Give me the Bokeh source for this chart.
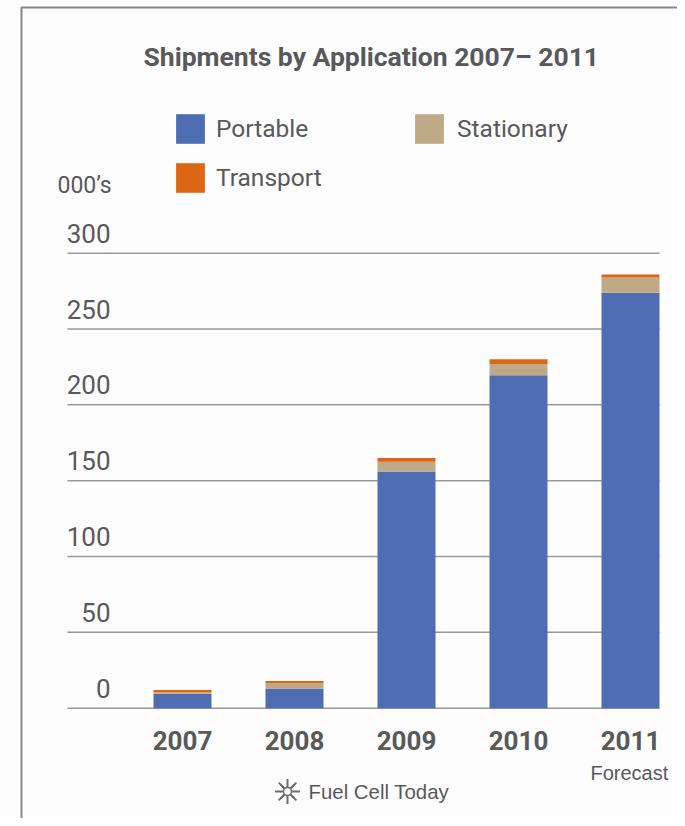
from bokeh.plotting import figure
from bokeh.embed import file_html
from bokeh.resources import INLINE
from bokeh.core.properties import value
from bokeh.models import (Range1d, LinearAxis, FixedTicker, Legend, LegendItem, Label,
                          BoxAnnotation, ColumnDataSource)

# ---- data ----
years = [2007, 2008, 2009, 2010, 2011]
portable = [9.5, 13, 156, 219.5, 274]
stationary = [1, 3.5, 6.5, 7.5, 10]
transport = [1.5, 1.5, 2.5, 3, 2]
y_ticks = [0, 50, 100, 150, 200, 250, 300]
series = ["Portable", "Stationary", "Transport"]
colors = ["#4F6DB3", "#BFA986", "#DD6614"]
title_text = "Shipments by Application 2007\u2013 2011"

# ---- layout (picture pixels) ----
W, H = 677, 818
BASE = 707.7
S = (707.7 - 252.7) / 300
YEAR_PX = 112
X0 = 2007 - 182 / YEAR_PX
X1 = X0 + W / YEAR_PX
FONT = "Roboto"
SANS = "Liberation Sans"
TXT = "#58595B"

def px(page_x):
    return X0 + page_x / YEAR_PX

def py(page_y):
    return (BASE - page_y) / S

p = figure(width=W, height=H, output_backend="svg", toolbar_location=None,
           x_range=Range1d(X0, X1),
           y_range=Range1d((BASE - H) / S, BASE / S),
           x_axis_type=None, y_axis_type=None,
           min_border=0,
           background_fill_color="#FDFDFD", border_fill_color="#FDFDFD",
           outline_line_color=None)

# x axis
xax = LinearAxis(ticker=FixedTicker(ticks=years), fixed_location=0)
xax.axis_line_color = None
xax.major_tick_line_color = None
xax.minor_tick_line_color = None
xax.major_label_standoff = 17
xax.major_label_text_font = FONT
xax.major_label_text_font_style = "bold"
xax.major_label_text_font_size = "26px"
xax.major_label_text_color = TXT
xax.major_label_overrides = {y: str(y) for y in years}
p.add_layout(xax, "below")

# grid lines and their labels, from the y ticks (labels sit above the lines)
n = len(y_ticks)
p.segment(x0=[px(67)] * n, x1=[px(659)] * n, y0=y_ticks, y1=y_ticks,
          line_color="#999999", line_width=1.5)
p.text(x=[px(110)] * n, y=y_ticks, text=[str(t) for t in y_ticks], y_offset=-20,
       text_font=value(FONT), text_font_size="26px", text_color=TXT,
       text_align="right", text_baseline="alphabetic")

# bars
src = ColumnDataSource(dict(x=years, Portable=portable, Stationary=stationary, Transport=transport))
bars = p.vbar_stack(series, x="x", width=58 / YEAR_PX, color=colors, line_color=None, source=src)

# legends (legend swatches are drawn at 80% of the glyph box)
common = dict(background_fill_alpha=0, border_line_alpha=0, padding=0, margin=0,
              glyph_width=36, glyph_height=37, spacing=12,
              label_text_font=FONT, label_text_font_size="24.5px", label_text_color=TXT,
              label_text_baseline="middle")
leg1 = Legend(items=[LegendItem(label="Portable", renderers=[bars[0]]),
                     LegendItem(label="Transport", renderers=[bars[2]])],
              location=(172, H - 196), label_standoff=8, **common)
leg2 = Legend(items=[LegendItem(label="Stationary", renderers=[bars[1]])],
              location=(411, H - 147), label_standoff=10, **common)
p.add_layout(leg1)
p.add_layout(leg2)

# free texts
def lab(page_x, page_y, text, font, size, align="left", style="normal"):
    p.add_layout(Label(x=px(page_x), y=py(page_y), text=text, text_font=font,
                       text_font_size=size, text_color=TXT, text_align=align,
                       text_baseline="middle", text_font_style=style))

lab(143, 56, title_text, FONT, "26.5px", style="bold")
lab(57, 185, "000\u2019s", FONT, "23px")
lab(590, 772, "Forecast", SANS, "20px")
lab(308, 791, "Fuel Cell Today", SANS, "20.4px")

# logo mark
for m, size in (("asterisk", 25), ("x", 19)):
    p.scatter([px(287)], [py(791)], marker=m, size=size, line_color="#6D6E71", line_width=2)
p.scatter([px(287)], [py(791)], marker="circle", size=8, fill_color="#FDFDFD",
          line_color="#6D6E71", line_width=1.5)

# page frame
frame = BoxAnnotation(left=21, right=W + 20, top=7, bottom=H + 20,
                      left_units="canvas", right_units="canvas", top_units="canvas",
                      bottom_units="canvas", fill_alpha=0, line_color="#888888",
                      line_alpha=1, line_width=2)
p.add_layout(frame)

open("out.html", "w").write(file_html(p, INLINE))
